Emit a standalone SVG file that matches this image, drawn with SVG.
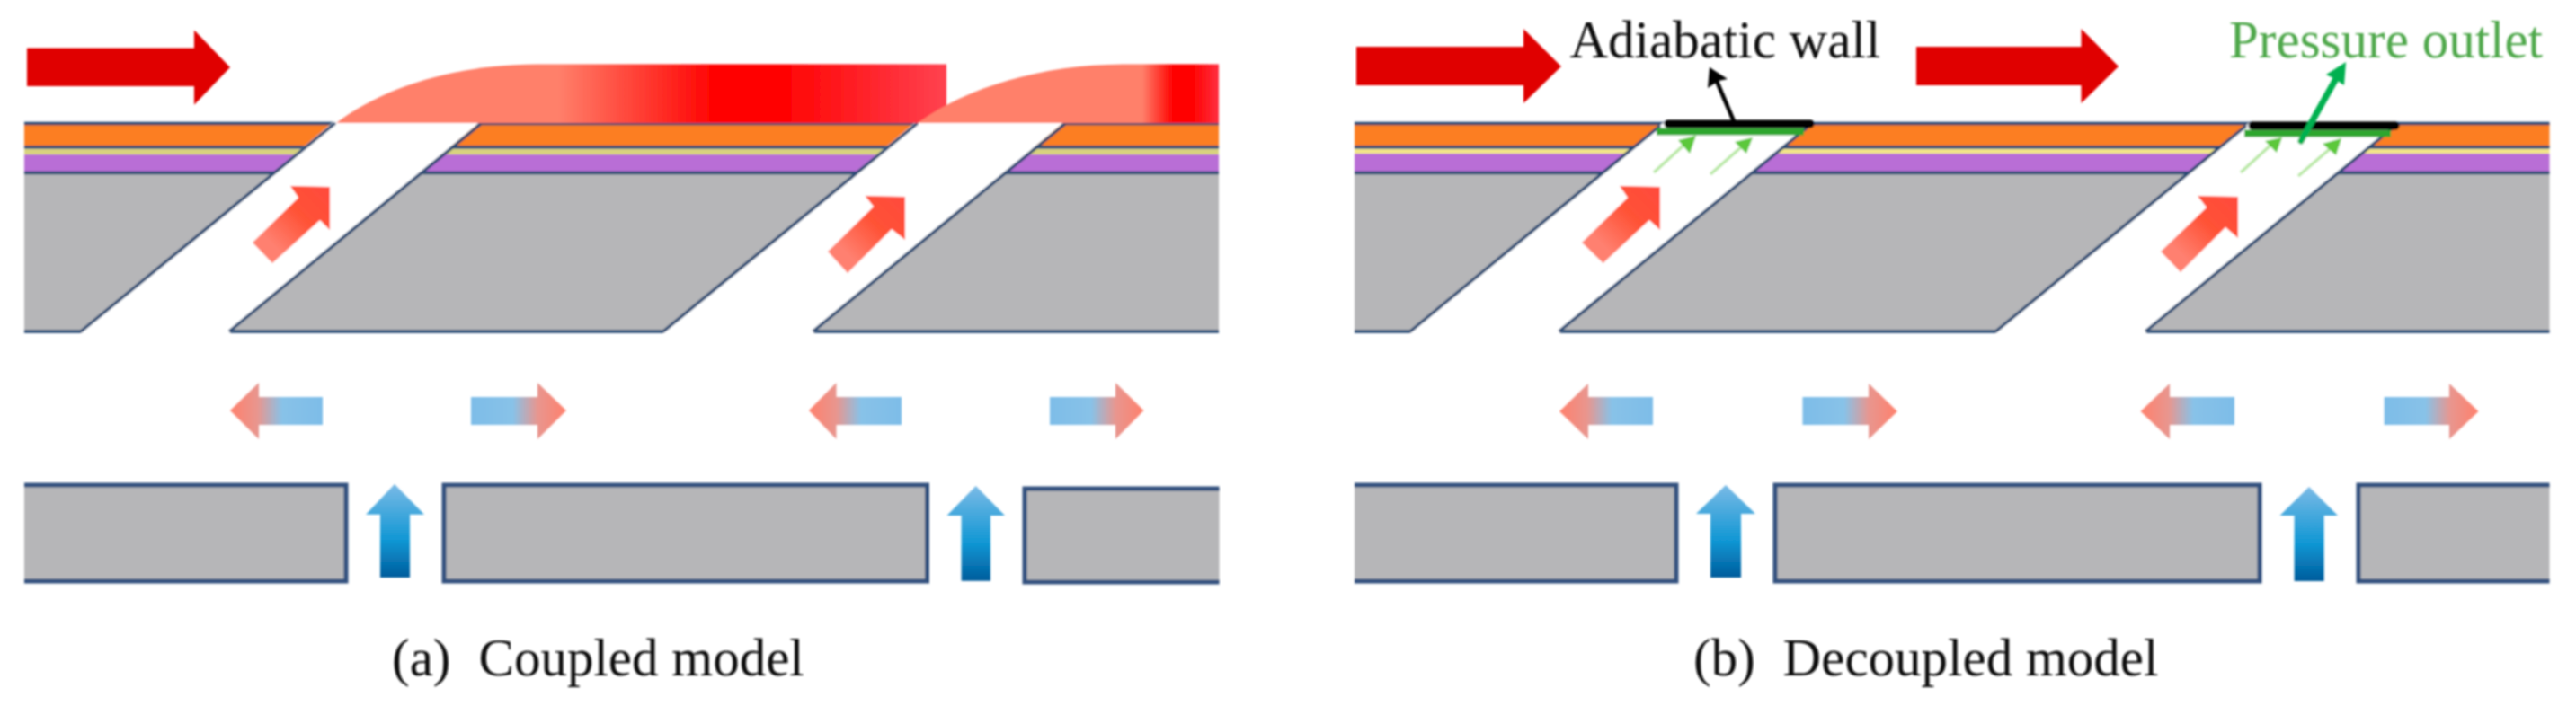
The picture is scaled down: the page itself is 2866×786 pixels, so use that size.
<svg xmlns="http://www.w3.org/2000/svg" width="2866" height="786" viewBox="0 0 2866 786">
<defs>
<style>
.orange{fill:#FC7E22}.purple{fill:#B96ED6}.yellowA{fill:#D8D27E}.yellowB{fill:#F3E587}.gray{fill:#B6B6B8}.slot{fill:#fff}
.ln{stroke:#274872;stroke-width:3.5;fill:none}
.box{fill:#B6B6B8;stroke:#31517E;stroke-width:5}
.main{fill:#E00000}
.t{font-family:"Liberation Serif","Times New Roman",serif;font-size:59px;fill:#111;white-space:pre}
.thin{stroke:#B8E8A4;stroke-width:3.5;fill:none}
.hd{fill:#5CC83A}
.adi{stroke:#000;stroke-width:9;stroke-linecap:round}
.pout{stroke:#2FA62F;stroke-width:8}
</style>
<filter id="soft" x="0" y="0" width="100%" height="100%" filterUnits="userSpaceOnUse" primitiveUnits="userSpaceOnUse"><feGaussianBlur stdDeviation="0.8"/></filter>
<linearGradient id="b1" gradientUnits="userSpaceOnUse" x1="374" y1="0" x2="1053" y2="0">
<stop offset="0" stop-color="#FF806B"/><stop offset="0.363" stop-color="#FF806B"/><stop offset="0.625" stop-color="#FF0000"/><stop offset="0.74" stop-color="#FF0505"/><stop offset="1" stop-color="#FF4250"/></linearGradient>
<linearGradient id="b2" gradientUnits="userSpaceOnUse" x1="1021" y1="0" x2="1356" y2="0">
<stop offset="0" stop-color="#FF806B"/><stop offset="0.745" stop-color="#FF806B"/><stop offset="0.85" stop-color="#FF0000"/><stop offset="0.91" stop-color="#FF0000"/><stop offset="1" stop-color="#FF3040"/></linearGradient>
<linearGradient id="hot" x1="0" y1="1" x2="1" y2="0"><stop offset="0.25" stop-color="#FF8070"/><stop offset="0.62" stop-color="#FF5236"/><stop offset="1" stop-color="#FF4A3C"/></linearGradient>
<linearGradient id="mixL" x1="0" y1="0" x2="1" y2="0"><stop offset="0" stop-color="#FF806C"/><stop offset="0.3" stop-color="#E8968F"/><stop offset="0.56" stop-color="#88C2E8"/><stop offset="1" stop-color="#7DBDE8"/></linearGradient>
<linearGradient id="mixR" x1="1" y1="0" x2="0" y2="0"><stop offset="0" stop-color="#FF806C"/><stop offset="0.3" stop-color="#E8968F"/><stop offset="0.56" stop-color="#88C2E8"/><stop offset="1" stop-color="#7DBDE8"/></linearGradient>
<linearGradient id="cool" x1="0" y1="0" x2="0" y2="1"><stop offset="0" stop-color="#7ABAE6"/><stop offset="0.6" stop-color="#1197D4"/><stop offset="1" stop-color="#005C9C"/></linearGradient>
</defs>
<rect width="2866" height="786" fill="#fff"/>
<g filter="url(#soft)">
<g id="panel-a-plate">
<rect class="orange" x="27" y="137" width="1329" height="27"/>
<rect class="yellowA" x="27" y="166" width="1329" height="6"/>
<rect class="purple" x="27" y="172" width="1329" height="20"/>
<rect class="gray" x="27" y="194" width="1329" height="175"/>
<path class="ln" d="M27,137.5H1356M27,164H1356M27,192.5H1356M27,369H1356"/>
<polygon class="slot" points="373,134 90,371 255,371 536,134"/>
<polygon class="slot" points="1021,134 738,371 904.5,371 1186,134"/>
<path class="ln" d="M373,137L90,369M536,137L255,369M1021,137L738,369M1186,137L904.5,369"/>
<path d="M374,137C430,95 510,72 597,71.5L1053,71.5V137Z" fill="url(#b1)"/>
<path d="M1021,137C1075,97 1160,72 1249,71.5L1356,71.5V137Z" fill="url(#b2)"/>
</g>
<g id="panel-a-lower">
<path class="box" d="M27,540H385V647H27"/>
<rect class="box" x="494" y="540" width="537.5" height="107"/>
<path class="box" d="M1356.5,544H1140V648H1356.5"/>
</g>
<g id="panel-b-plate">
<rect class="orange" x="1507" y="137" width="1329.5" height="27"/>
<rect class="yellowB" x="1507" y="166" width="1329.5" height="5"/>
<rect class="purple" x="1507" y="171" width="1329.5" height="21"/>
<rect class="gray" x="1507" y="194" width="1329.5" height="175"/>
<path class="ln" d="M1507,137.5H2836.5M1507,164H2836.5M1507,192.5H2836.5M1507,369H2836.5"/>
<polygon class="slot" points="1850,137 1569,371 1734.5,371 2016,137"/>
<polygon class="slot" points="2502,137 2220.5,371 2387,371 2668,137"/>
<path class="ln" d="M1847,140L1569,369M2013,140L1734.5,369M2499,140L2220.5,369M2665,140L2387,369"/>
</g>
<g id="panel-b-lower">
<path class="box" d="M1507,540H1865V647H1507"/>
<rect class="box" x="1975" y="540" width="539" height="107"/>
<path class="box" d="M2836.5,540H2624V647H2836.5"/>
</g>
<g id="connectors">
<polygon class="main" points="30,53.5 216,53.5 216,33.5 256,75 216,116.7 216,96 30,96"/>
<polygon class="main" points="1509,52 1695,52 1695,32 1737,74 1695,115 1695,95 1509,95"/>
<polygon class="main" points="2132,52 2315.5,52 2315.5,32 2357,74 2315.5,115 2315.5,95 2132,95"/>
<polygon fill="url(#hot)" points="367,208 323,207 332,220 281,270 303,293 356,245 367,256"/>
<polygon fill="url(#hot)" points="1007,219 962.5,218 972,230 921,280 943,304 992,255 1007,267"/>
<polygon fill="url(#hot)" points="1847,208 1802,207 1811,220 1760,270 1783.6,293 1835,245 1847,256"/>
<polygon fill="url(#hot)" points="2490,219 2445,218 2455,231 2404,280 2426,303 2476,253 2490,265"/>
<polygon fill="url(#mixL)" points="256,457 288,426 288,442 359,442 359,473 288,473 288,489"/>
<polygon fill="url(#mixR)" points="630,457 598,426 598,442 524,442 524,473 598,473 598,489"/>
<polygon fill="url(#mixL)" points="900,457 930.5,426 930.5,442 1003,442 1003,473 930.5,473 930.5,489"/>
<polygon fill="url(#mixR)" points="1272.5,457 1241,426 1241,442 1168,442 1168,473 1241,473 1241,489"/>
<polygon fill="url(#mixL)" points="1735,458 1767,427 1767,442 1839,442 1839,473 1767,473 1767,489"/>
<polygon fill="url(#mixR)" points="2111,458 2079,427 2079,442 2005.5,442 2005.5,473 2079,473 2079,489"/>
<polygon fill="url(#mixL)" points="2381.6,458 2414,427 2414,442 2486,442 2486,473 2414,473 2414,489"/>
<polygon fill="url(#mixR)" points="2757.5,458 2725,427 2725,442 2652.6,442 2652.6,473 2725,473 2725,489"/>
<polygon fill="url(#cool)" points="439,539 472,572.7 456,572.7 456,643 423,643 423,572.7 407,572.7"/>
<polygon fill="url(#cool)" points="1085.7,541 1118,574 1102,574 1102,646.7 1069.6,646.7 1069.6,574 1053.5,574"/>
<polygon fill="url(#cool)" points="1920,540 1953,572 1937,572 1937,643 1903,643 1903,572 1887,572"/>
<polygon fill="url(#cool)" points="2569,542 2601,574 2585.6,574 2585.6,647 2552.6,647 2552.6,574 2536.5,574"/>
<path class="thin" d="M1840,192L1875,160M1903,194L1938,163M2493,192L2528,160M2557,196L2593,165"/>
<polygon class="hd" points="1887,151 1867,156 1880,171"/>
<polygon class="hd" points="1950,153 1930,158 1943,171"/>
<polygon class="hd" points="2539,153 2520,157 2533,170"/>
<polygon class="hd" points="2605,154 2584,160 2599,173"/>
<line class="pout" x1="1843" y1="146.5" x2="2007" y2="146.5"/>
<line class="pout" x1="2497" y1="148.5" x2="2660" y2="148.5"/>
<line class="adi" x1="1856" y1="138" x2="2014" y2="138"/>
<line class="adi" x1="2506" y1="140" x2="2665" y2="140"/>
<path d="M1929,135L1909,88" stroke="#000" stroke-width="4.5" fill="none"/>
<polygon fill="#000" points="1902,75 1900,98 1912,90 1922,88"/>
<path d="M2560,157L2601,84" stroke="#00B050" stroke-width="7" stroke-linecap="round" fill="none"/>
<polygon fill="#00B050" points="2610,69 2588,83 2598,88 2608,95"/>
</g>
<g id="labels">
<text class="t" x="1746.5" y="64">Adiabatic wall</text>
<text class="t" x="2480" y="64" style="fill:#4FA84C">Pressure outlet</text>
<text class="t" x="436" y="752">(a)  <tspan x="532.6">Coupled model</tspan></text>
<text class="t" x="1884" y="752">(b)  <tspan x="1983.6">Decoupled model</tspan></text>
</g>
</g>
</svg>
